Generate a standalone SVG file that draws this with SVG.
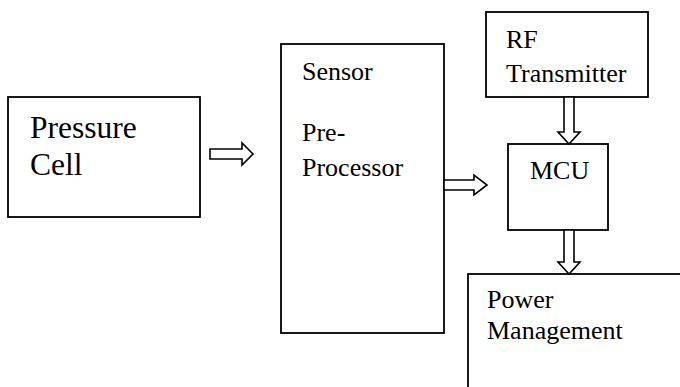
<svg xmlns="http://www.w3.org/2000/svg" width="680" height="387" viewBox="0 0 680 387">
<style>
.box{fill:#fff;stroke:#000;stroke-width:1.8}
.arr{fill:#fff;stroke:#000;stroke-width:1.6;stroke-linejoin:miter}
text{font-family:'Liberation Serif','Times New Roman',serif;font-size:26px;fill:#000}
.big{font-size:31.5px}
</style>
<rect width="680" height="387" fill="#fff"/>
<g id="pressure-cell">
<rect class="box" x="8" y="97" width="192" height="120"/>
<text class="big" x="30" y="138">Pressure</text>
<text class="big" x="30" y="175">Cell</text>
</g>
<g id="sensor-preprocessor">
<rect class="box" x="281" y="44" width="163" height="289"/>
<text x="302" y="80">Sensor</text>
<text x="302" y="141">Pre-</text>
<text x="302" y="176">Processor</text>
</g>
<g id="rf-transmitter">
<rect class="box" x="486" y="12" width="162" height="85"/>
<text x="506" y="48">RF</text>
<text x="506" y="82">Transmitter</text>
</g>
<g id="mcu">
<rect class="box" x="508" y="144" width="100" height="86"/>
<text x="530" y="179">MCU</text>
</g>
<g id="power-management">
<rect class="box" x="468" y="274" width="220" height="130"/>
<text x="487" y="308">Power</text>
<text x="487" y="339">Management</text>
</g>
<g id="connectors">
<polygon class="arr" points="210,149 242,149 242,143 253,154 242,165 242,159 210,159"/>
<polygon class="arr" points="444,180 474,180 474,175 487,185 474,195 474,190 444,190"/>
<polygon class="arr" points="564,97 574,97 574,132 580,132 569,144 558,132 564,132"/>
<polygon class="arr" points="564,230 574,230 574,262 580,262 569,274 558,262 564,262"/>
</g>
</svg>
